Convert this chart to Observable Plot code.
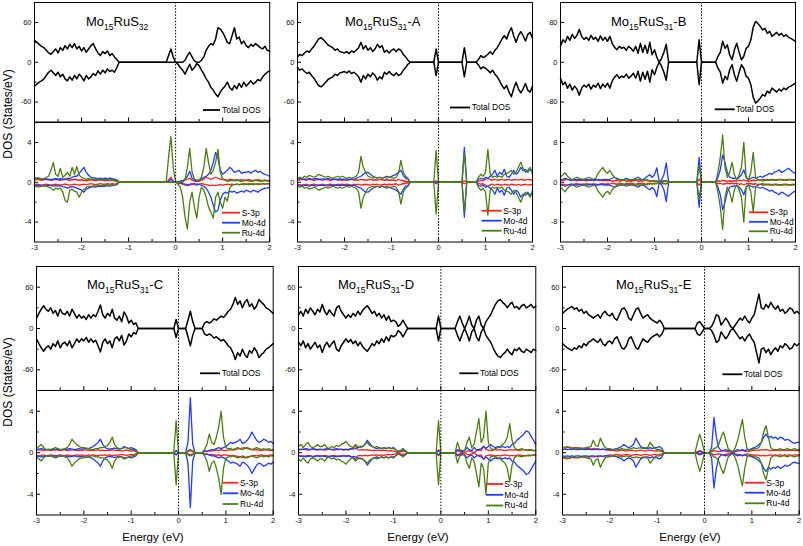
<!DOCTYPE html>
<html><head><meta charset="utf-8">
<script src="https://cdn.jsdelivr.net/npm/d3@7"></script>
<script src="https://cdn.jsdelivr.net/npm/@observablehq/plot@0.6"></script>
<style>
body{margin:0;background:#fff}
#root{position:relative;width:803px;height:546px;background:#fff;overflow:hidden;font-family:"Liberation Sans",Arial,sans-serif}
</style>
</head><body><div id="root"></div>
<script>
// Energy sampling grid (eV): -3.00 ... 2.00, 0.05 eV apart (101 samples)
const energy = d3.range(101).map(i => +(-3 + i * 0.05).toFixed(2));

// ---------- Panel 1: Mo15RuS32 (spin up / spin down read separately) ----------
const p1TotUp = [
33,30,27,24,22,18,14,12,16,20,
14,22,18,25,20,27,22,28,20,24,
17,22,15,20,25,28,20,14,10,16,
13,17,10,13,8,4,0,0,0,0,
0,0,0,0,0,0,0,0,0,0,
0,0,0,0,0,0,0,10,20,8,
0,0,0,0,3,10,15,8,2,0,
0,3,8,18,24,28,26,35,52,50,
45,38,30,28,40,52,35,38,28,32,
25,22,27,24,28,25,22,20,24,18,
17];
const p1TotDn = [
-36,-33,-30,-28,-25,-20,-15,-12,-16,-20,
-15,-22,-18,-25,-28,-22,-27,-20,-25,-18,
-22,-28,-20,-25,-22,-17,-20,-13,-18,-12,
-16,-10,-14,-12,-15,-8,0,0,0,0,
0,0,0,0,0,0,0,0,0,0,
0,0,0,0,0,0,0,0,0,0,
0,-3,-8,-12,-18,-10,-3,-12,-8,-2,
-5,-12,-18,-25,-30,-38,-42,-48,-52,-45,
-40,-36,-30,-38,-42,-35,-40,-32,-38,-30,
-36,-32,-28,-33,-30,-26,-28,-22,-18,-15,
-13];
const p1SUp = [
0.25,0.3,0.25,0.2,0.25,0.3,0.25,0.2,0.25,0.3,
0.25,0.2,0.25,0.3,0.25,0.2,0.25,0.3,0.25,0.2,
0.25,0.2,0.15,0.2,0.25,0.2,0.15,0.2,0.25,0.2,
0.15,0.2,0.15,0.2,0.15,0.1,0,0,0,0,
0,0,0,0,0,0,0,0,0,0,
0,0,0,0,0,0,0,0.2,0.5,0.1,
0,0,0.1,0.15,0.2,0.3,0.4,0.2,0.1,0.1,
0.1,0.2,0.3,0.5,0.4,0.3,0.4,0.5,0.4,0.3,
0.3,0.25,0.2,0.3,0.25,0.2,0.25,0.2,0.25,0.2,
0.2,0.25,0.2,0.15,0.2,0.25,0.2,0.15,0.2,0.15,
0.2];
const p1SDn = [
-0.25,-0.2,-0.25,-0.3,-0.25,-0.2,-0.25,-0.3,-0.25,-0.2,
-0.25,-0.3,-0.25,-0.2,-0.25,-0.3,-0.25,-0.2,-0.25,-0.3,
-0.25,-0.2,-0.25,-0.2,-0.15,-0.2,-0.25,-0.2,-0.15,-0.2,
-0.2,-0.15,-0.2,-0.15,-0.2,-0.1,0,0,0,0,
0,0,0,0,0,0,0,0,0,0,
0,0,0,0,0,0,0,0,0,0,
0,-0.1,-0.15,-0.2,-0.3,-0.35,-0.2,-0.15,-0.25,-0.3,
-0.2,-0.15,-0.2,-0.25,-0.3,-0.35,-0.3,-0.35,-0.3,-0.25,
-0.3,-0.25,-0.2,-0.25,-0.2,-0.25,-0.2,-0.25,-0.2,-0.15,
-0.2,-0.15,-0.2,-0.25,-0.2,-0.15,-0.2,-0.15,-0.2,-0.15,
-0.15];
const p1MoUp = [
0.4,0.35,0.4,0.3,0.35,0.3,0.3,0.25,0.3,0.35,
0.3,0.35,0.3,0.3,0.4,0.35,0.5,0.6,0.6,0.9,
1.2,1.5,1.0,0.7,0.5,0.45,0.4,0.35,0.4,0.35,
0.4,0.35,0.4,0.35,0.3,0.25,0,0,0,0,
0,0,0,0,0,0,0,0,0,0,
0,0,0,0,0,0,0,0.1,0.3,0.1,
0,0,0.1,0.15,0.3,0.6,1.1,0.4,0.2,0.15,
0.2,0.3,0.5,0.6,0.8,1.2,2.0,3.0,2.4,1.2,
0.8,1.0,1.2,1.5,1.3,1.0,1.1,1.2,0.9,1.0,
1.0,1.1,0.9,1.1,1.2,1.0,1.1,0.9,0.8,0.7,
0.6];
const p1MoDn = [
-0.3,-0.35,-0.3,-0.35,-0.4,-0.35,-0.3,-0.35,-0.4,-0.35,
-0.4,-0.35,-0.45,-0.5,-0.6,-0.5,-0.45,-0.5,-0.6,-0.7,
-0.8,-1.0,-0.7,-0.6,-0.5,-0.45,-0.5,-0.4,-0.45,-0.4,
-0.4,-0.35,-0.4,-0.35,-0.3,-0.25,0,0,0,0,
0,0,0,0,0,0,0,0,0,0,
0,0,0,0,0,0,0,0,0,0,
0,0,-0.1,-0.15,-0.2,-0.25,-0.3,-0.2,-0.15,-0.2,
-0.2,-0.3,-0.4,-0.6,-1.0,-1.5,-2.3,-3.0,-2.8,-1.8,
-1.2,-1.0,-1.1,-0.9,-1.0,-0.9,-1.1,-1.0,-0.9,-1.0,
-0.8,-0.9,-1.0,-0.8,-0.9,-1.0,-0.8,-0.7,-0.6,-0.6,
-0.5];
const p1RuUp = [
0.4,0.45,0.4,0.35,0.3,0.5,0.6,1.2,2.0,0.8,
0.6,1.4,0.5,0.7,1.0,0.6,1.5,0.8,1.6,0.7,
0.5,0.4,0.3,0.35,0.3,0.3,0.25,0.3,0.25,0.3,
0.25,0.3,0.2,0.25,0.2,0.2,0,0,0,0,
0,0,0,0,0,0,0,0,0,0,
0,0,0,0,0,0,0,2.5,4.6,1.5,
0,0,0,0,0.3,1.5,3.4,1.0,0.3,0.2,
0.2,0.5,1.5,3.4,2.0,0.8,1.2,2.0,3.3,1.0,
0.3,0.2,0.1,0.15,0.2,0.15,0.2,0.15,0.1,0.15,
0.2,0.15,0.1,0.15,0.2,0.15,0.1,0.15,0.2,0.15,
0.1];
const p1RuDn = [
-0.4,-0.45,-0.5,-0.4,-0.35,-0.4,-0.5,-0.6,-0.8,-0.6,
-0.7,-0.6,-1.0,-1.8,-2.0,-0.8,-0.7,-0.9,-1.0,-1.5,
-1.0,-0.7,-0.5,-0.4,-0.45,-0.35,-0.4,-0.3,-0.35,-0.3,
-0.3,-0.25,-0.3,-0.25,-0.3,-0.2,0,0,0,0,
0,0,0,0,0,0,0,0,0,0,
0,0,0,0,0,0,0,0,0,0,
0,-0.2,-0.5,-1.5,-3.5,-4.7,-2.0,-1.0,-2.5,-3.6,
-1.5,-0.5,-0.8,-1.5,-2.5,-3.0,-3.6,-1.5,-1.0,-2.0,
-2.6,-1.5,-1.9,-0.6,-0.3,-0.25,-0.2,-0.25,-0.2,-0.25,
-0.2,-0.25,-0.2,-0.15,-0.2,-0.25,-0.2,-0.15,-0.2,-0.15,
-0.2];

// ---------- Panels 2-6: spin-down curves are the mirror image of these spin-up values ----------
const p2Tot = [
8,12,10,14,17,15,20,24,30,35,
37,34,30,26,24,22,18,20,16,15,
14,16,13,17,15,18,22,30,20,25,
18,22,16,20,27,22,25,15,18,14,
18,20,16,20,18,12,8,3,0,0,
0,0,0,0,0,0,0,0,0,20,
0,0,0,0,0,0,0,0,0,0,
0,22,0,0,0,0,0,4,10,7,
9,12,16,12,18,22,28,35,40,35,
45,52,40,30,40,46,40,32,42,45,
36];
const p2S = [
0.2,0.25,0.3,0.25,0.2,0.3,0.25,0.2,0.25,0.3,
0.25,0.2,0.3,0.25,0.2,0.25,0.3,0.2,0.25,0.2,
0.25,0.2,0.25,0.3,0.2,0.25,0.2,0.3,0.25,0.2,
0.25,0.3,0.2,0.25,0.2,0.3,0.25,0.2,0.25,0.2,
0.25,0.2,0.15,0.3,0.2,0.15,0.1,0.05,0,0,
0,0,0,0,0,0,0,0,0,0.15,
0,0,0,0,0,0,0,0,0,0,
0,0.15,0,0,0,0,0,0.1,0.2,0.15,
0.3,0.4,0.25,0.2,0.3,0.2,0.25,0.3,0.2,0.25,
0.3,0.2,0.25,0.3,0.2,0.3,0.25,0.2,0.3,0.25,
0.2];
const p2Mo = [
0.3,0.4,0.3,0.35,0.3,0.4,0.3,0.35,0.4,0.3,
0.3,0.35,0.3,0.4,0.3,0.35,0.3,0.3,0.35,0.3,
0.3,0.35,0.3,0.35,0.3,0.4,0.5,0.6,0.8,1.0,
1.0,0.8,0.6,0.5,0.4,0.5,0.4,0.5,0.6,0.5,
0.6,0.7,0.8,1.0,1.2,0.7,0.4,0.3,0,0,
0,0,0,0,0,0,0,0,0,0,
0,0,0,0,0,0,0,0,0,0,
0,3.5,0,0,0,0,0,0.3,0.4,0.3,
0.5,0.4,0.6,0.8,1.2,0.6,1.0,0.8,1.3,0.6,
0.5,0.8,1.2,0.8,1.0,1.5,1.2,1.3,1.0,1.3,
1.2];
const p2Ru = [
0.4,0.5,0.4,0.6,0.5,0.7,0.6,0.5,0.6,0.8,
0.7,0.6,0.5,0.6,0.5,0.4,0.5,0.6,0.5,0.6,
0.5,0.4,0.5,0.4,0.5,0.6,1.0,2.6,1.5,1.0,
0.6,0.5,0.4,0.5,0.4,0.5,0.4,0.5,0.4,0.5,
0.5,0.4,0.5,0.9,2.2,1.0,0.6,0.4,0,0,
0,0,0,0,0,0,0,0,0,3.2,
0,0,0,0,0,0,0,0,0,0,
0,3.0,0,0,0,0,0,0.5,0.8,0.6,
1.0,3.3,0.8,0.5,0.6,0.5,0.6,0.5,0.8,0.9,
1.0,1.2,0.8,1.0,1.5,2.0,1.4,1.0,1.2,1.5,
0.8];

const p3Tot = [
32,45,40,52,44,56,48,54,66,52,
46,50,44,54,46,50,42,53,44,50,
42,52,38,30,25,32,28,30,24,32,
28,22,32,18,38,20,34,18,40,15,
25,10,0,8,20,36,0,0,0,0,
0,0,0,0,0,0,0,0,0,45,
0,0,0,0,0,0,0,12,20,42,
28,35,15,5,25,38,20,5,12,28,
32,45,70,82,78,72,65,68,58,62,
52,56,60,54,58,52,55,50,48,45,
42];
const p3S = [
0.5,0.4,0.5,0.6,0.4,0.5,0.4,0.3,0.4,0.5,
0.4,0.3,0.4,0.5,0.3,0.4,0.5,0.4,0.3,0.4,
0.3,0.4,0.2,0.3,0.4,0.2,0.3,0.4,0.2,0.3,
0.2,0.3,0.4,0.2,0.3,0.2,0.4,0.3,0.2,0.3,
0.2,0.3,0,0.2,0.3,0.3,0,0,0,0,
0,0,0,0,0,0,0,0,0,0.6,
0,0,0,0,0,0,0,0.3,0.2,0.4,
0.3,0.2,0.3,0.2,0.3,0.2,0.4,0.3,0.5,0.3,
0.2,0.3,0.4,0.3,0.5,0.4,0.6,0.5,0.4,0.5,
0.6,0.5,0.4,0.5,0.6,0.5,0.4,0.5,0.6,0.5,
0.5];
const p3Mo = [
0.5,0.6,0.8,0.6,0.5,0.4,0.5,0.6,0.5,0.4,
0.5,0.6,0.5,0.4,0.5,0.6,0.5,0.4,0.5,0.6,
0.5,0.6,0.8,1.0,0.8,0.6,0.5,0.6,0.8,0.6,
0.5,0.6,0.8,1.0,0.7,0.5,0.8,1.2,1.5,1.0,
1.5,2.9,0,0.5,1.5,3.9,0,0,0,0,
0,0,0,0,0,0,0,0,0,5.0,
0,0,0,0,0,0,0,1,2.5,5.5,
4,2,1,0.8,0.8,0.6,1.0,1.5,2.5,1.0,
0.5,0.8,1.0,0.8,1.0,1.2,1.0,1.3,1.5,1.8,
1.6,2.0,2.2,2.5,2.0,2.2,2.5,2.8,2.4,2.0,
1.8];
const p3Ru = [
1.0,1.5,1.9,1.2,0.8,0.5,0.8,1.0,0.8,0.6,
0.6,0.8,1.0,0.8,0.6,0.8,1.8,2.4,3.0,2.2,
1.8,2.4,1.5,1.0,0.6,0.5,0.4,0.5,0.4,0.5,
0.4,0.5,0.6,0.5,0.6,0.5,0.4,0.5,0.3,0.3,
0.3,0.2,0,0.1,0.2,0.3,0,0,0,0,
0,0,0,0,0,0,0,0,0,3.3,
0,0,0,0,0,0,0,2,5,9.5,
3,1,2,4,1.5,0.5,1.5,3,8,1,
0.5,2,6,1,0.5,0.4,0.3,0.4,0.5,0.4,
0.5,0.4,0.5,0.6,0.5,0.4,0.5,0.6,0.5,0.4,
0.5];

const p4Tot = [
15,22,28,33,28,25,30,22,26,18,
28,22,20,25,18,28,22,15,20,15,
18,13,20,15,20,17,25,34,20,15,
22,18,28,15,12,18,10,24,18,8,
12,6,8,0,0,0,0,0,0,0,
0,0,0,0,0,0,0,0,0,13,
0,0,0,0,12,25,10,0,0,0,
0,8,10,8,10,14,12,15,18,16,
20,25,28,35,45,35,40,30,38,42,
32,36,28,33,42,38,35,30,28,25,
22];
const p4S = [
0.25,0.3,0.25,0.2,0.3,0.25,0.2,0.25,0.3,0.25,
0.2,0.25,0.3,0.2,0.25,0.3,0.25,0.2,0.25,0.2,
0.25,0.3,0.2,0.25,0.2,0.25,0.3,0.2,0.25,0.2,
0.25,0.2,0.3,0.2,0.25,0.2,0.15,0.2,0.25,0.2,
0.15,0.2,0.1,0,0,0,0,0,0,0,
0,0,0,0,0,0,0,0,0,0.2,
0,0,0,0,0.1,0.2,0.1,0,0,0,
0,0.1,0.15,0.2,0.15,0.2,0.25,0.2,0.3,0.2,
0.2,0.25,0.3,0.25,0.3,0.35,0.4,0.45,0.5,0.4,
0.35,0.3,0.25,0.3,0.25,0.2,0.25,0.3,0.25,0.2,
0.25];
const p4Mo = [
0.3,0.35,0.4,0.35,0.3,0.35,0.3,0.35,0.3,0.35,
0.3,0.35,0.3,0.35,0.4,0.35,0.3,0.35,0.4,0.35,
0.4,0.45,0.4,0.5,0.6,0.8,1.0,1.3,0.8,0.5,
0.4,0.35,0.4,0.45,0.4,0.35,0.4,0.6,0.5,0.4,
0.5,0.4,0.3,0,0,0,0,0,0,0,
0,0,0,0,0,0,0,0,0,0.2,
0,0,0,0,1.0,5.3,0.8,0,0,0,
0,0.2,0.1,0.2,0.3,0.3,0.4,0.5,0.4,0.5,
0.6,0.8,1.0,0.9,1.0,1.1,1.3,0.9,1.0,1.2,
1.5,2.0,1.6,1.2,1.0,1.1,1.3,1.2,1.0,1.1,
0.9];
const p4Ru = [
0.4,0.6,0.8,0.5,0.3,0.3,0.3,0.4,0.5,0.4,
0.3,0.3,0.4,0.5,0.8,1.3,1.0,0.8,0.6,0.5,
0.5,0.4,0.4,0.3,0.3,0.4,0.4,0.5,0.5,0.6,
0.7,1.0,1.5,0.8,0.5,0.4,0.4,0.5,0.5,0.4,
0.3,0.3,0.2,0,0,0,0,0,0,0,
0,0,0,0,0,0,0,0,0,3.1,
0,0,0,0,0.2,0.3,0.2,0,0,0,
0,0.3,0.8,1.8,1.0,0.8,1.5,2.5,4.0,1.5,
0.5,0.4,0.4,0.3,0.4,0.5,0.4,0.3,0.4,0.5,
0.4,0.3,0.4,0.5,0.4,0.3,0.4,0.3,0.4,0.3,
0.3];

const p5Tot = [
20,25,18,28,22,30,25,20,28,24,
35,25,20,27,22,18,30,33,25,20,
15,20,16,22,18,25,20,26,30,33,
28,22,25,18,22,15,20,12,18,10,
12,10,3,6,12,6,0,0,0,0,
0,0,0,0,0,0,0,0,0,18,
0,0,0,0,0,0,0,10,18,8,
0,8,18,5,0,12,18,5,0,10,
15,20,28,35,40,42,38,35,30,35,
38,30,32,28,33,35,30,32,35,30,
32];
const p5S = [
0.25,0.3,0.35,0.3,0.25,0.3,0.35,0.3,0.25,0.3,
0.3,0.25,0.3,0.35,0.3,0.25,0.3,0.35,0.3,0.25,
0.3,0.25,0.35,0.45,0.65,0.3,0.25,0.3,0.25,0.3,
0.25,0.2,0.25,0.2,0.25,0.2,0.25,0.2,0.15,0.2,
0.15,0.1,0,0.1,0.15,0.1,0,0,0,0,
0,0,0,0,0,0,0,0,0,0.3,
0,0,0,0,0,0,0,0.2,0.1,0,
0,0.15,0.2,0.1,0,0.2,0.25,0.2,0.65,0.3,
0.25,0.2,0.25,0.3,0.25,0.3,0.25,0.2,0.25,0.3,
0.25,0.3,0.25,0.2,0.25,0.3,0.25,0.3,0.25,0.2,
0.25];
const p5Mo = [
0.3,0.35,0.3,0.4,0.35,0.3,0.4,0.35,0.3,0.35,
0.3,0.35,0.4,0.35,0.3,0.35,0.4,0.3,0.35,0.3,
0.35,0.3,0.4,0.35,0.4,0.5,0.6,0.6,0.8,1.2,
0.9,0.6,0.5,0.4,0.5,0.4,0.5,0.4,0.5,0.4,
0.5,0.3,0.1,0.2,0.3,0.2,0,0,0,0,
0,0,0,0,0,0,0,0,0,0.2,
0,0,0,0,0,0,0,0.3,0.2,0.1,
0.2,0.5,0.3,0.2,0.5,0.3,0.3,0.4,0.6,0.4,
0.6,0.8,0.6,0.5,0.6,0.5,0.6,0.5,0.6,0.5,
0.8,0.9,1.2,1.4,1.6,1.8,2.1,2.0,1.6,1.2,
0.8];
const p5Ru = [
0.6,0.8,0.5,0.8,1.0,0.6,0.5,0.6,0.8,0.6,
0.6,0.8,0.5,0.4,0.6,0.5,0.7,0.6,0.8,0.9,
1.1,0.8,0.6,0.5,0.8,0.6,0.5,0.6,0.8,1.0,
0.7,0.6,0.5,0.6,0.5,0.4,0.5,0.4,0.5,0.4,
0.4,0.3,0.1,0.2,0.4,0.2,0,0,0,0,
0,0,0,0,0,0,0,0,0,3.1,
0,0,0,0,0,0,0,1.0,0.3,0.2,
0.2,1.0,1.5,0.5,0.8,2.0,3.3,1.0,1.5,4.0,
1.0,0.4,0.3,0.4,0.5,0.6,0.8,1.0,1.5,2.8,
1.2,0.5,0.3,0.3,0.4,0.3,0.3,0.2,0.3,0.2,
0.2];

const p6Tot = [
22,25,28,30,32,28,30,25,28,22,
25,20,18,15,18,20,15,22,25,20,
18,22,15,12,20,28,30,25,15,12,
20,28,30,22,15,18,20,15,12,10,
8,12,8,0,0,0,0,0,0,0,
0,0,0,0,0,0,0,8,10,5,
0,0,0,3,10,20,18,5,10,15,
10,3,0,5,10,15,12,18,12,8,
15,20,35,50,30,28,35,30,38,32,
28,33,25,28,22,25,30,28,22,25,
22];
const p6S = [
0.5,0.45,0.5,0.55,0.45,0.5,0.45,0.5,0.4,0.45,
0.4,0.45,0.35,0.4,0.35,0.4,0.3,0.35,0.3,0.25,
0.2,0.25,0.2,0.15,0.2,0.25,0.2,0.15,0.2,0.25,
0.2,0.15,0.2,0.25,0.2,0.15,0.2,0.25,0.2,0.15,
0.2,0.15,0.1,0,0,0,0,0,0,0,
0,0,0,0,0,0,0,0.1,0.2,0.1,
0,0,0,0.1,0.2,0.15,0.1,0.15,0.2,0.15,
0.1,0.05,0,0.1,0.15,0.2,0.25,0.15,0.1,0.15,
0.2,0.25,0.2,0.25,0.3,0.25,0.3,0.25,0.2,0.25,
0.2,0.25,0.2,0.25,0.2,0.25,0.2,0.25,0.2,0.2,
0.2];
const p6Mo = [
0.3,0.35,0.3,0.35,0.3,0.35,0.3,0.3,0.35,0.3,
0.3,0.35,0.3,0.3,0.35,0.3,0.3,0.35,0.3,0.3,
0.35,0.3,0.35,0.4,0.5,0.6,0.8,0.6,0.5,0.6,
0.8,1.4,1.0,0.6,0.5,0.4,0.4,0.5,0.4,0.5,
0.5,0.6,0.4,0,0,0,0,0,0,0,
0,0,0,0,0,0,0,0,0.15,0,
0,0,0,0.5,3.4,1.5,0.5,0.2,0.2,0.3,
0.2,0.2,0,0.2,0.3,0.2,0.3,0.2,0.3,0.3,
0.4,0.5,0.6,0.8,1.0,1.5,1.8,1.4,1.6,1.4,
1.5,1.3,1.5,1.4,1.2,1.3,1.2,1.0,0.9,1.0,
1.0];
const p6Ru = [
0.5,0.55,0.6,0.5,0.4,0.45,0.5,0.4,0.45,0.4,
0.5,0.55,0.6,1.2,0.7,0.6,1.4,0.9,0.5,0.4,
0.4,0.3,0.3,0.35,0.3,0.4,0.35,0.3,0.35,0.4,
0.5,0.4,0.45,0.5,0.4,0.5,0.5,1.0,0.7,0.4,
0.3,0.3,0.2,0,0,0,0,0,0,0,
0,0,0,0,0,0,0,1.0,1.8,1.0,
0,0,0,0.2,0.4,0.5,0.8,1.5,2.0,1.2,
0.4,0.2,0.1,0.5,1.2,2.2,3.2,1.5,0.4,0.2,
0.3,0.4,0.4,0.5,1.0,2.0,2.6,1.5,0.5,0.3,
0.3,0.3,0.4,0.3,0.3,0.4,0.3,0.3,0.4,0.3,
0.3];

// ---------- Text / ticks ----------
const titleSubs = [["15","32",""],["15","31","-A"],["15","31","-B"],["15","31","-C"],["15","31","-D"],["15","31","-E"]];
const seriesNames = ["S-3p","Mo-4d","Ru-4d"];
const totalName = "Total DOS";
const xMajor = [-3,-2,-1,0,1,2];
const xMinor = [-2.5,-1.5,-0.5,0.5,1.5];

// ---------- Layout (pixel geometry of each panel frame) ----------
const colors = {S:"#ff1f1f", Mo:"#1f3cff", Ru:"#4b7e12", tot:"#000"};
const FONT = '"Liberation Sans", Arial, sans-serif';
const layout = [
 {l:34.3, r:269.5, t:2, m:121.5, b:241, titleX:86,  totL:[203,220,222,110],   pdL:[222,240,241.7,[212.7,222.7,232.7]]},
 {l:296.7,r:531.7, t:2, m:121.5, b:241, titleX:345, totL:[450,470,471.7,107.5], pdL:[481.7,501.7,503.3,[210.7,220.7,230.7]]},
 {l:559.7,r:794.7, t:2, m:121.5, b:241, titleX:611, totL:[714.7,734.7,735.7,109.3], pdL:[749,768,769.7,[212.3,221.8,231.3]]},
 {l:35.7, r:272.4, t:265.5, m:389.5, b:514, titleX:87,  totL:[200,220,221.7,373.3], pdL:[222.7,238.3,240,[482.7,493.3,504]]},
 {l:298.3,r:535.6, t:265.5, m:389.5, b:514, titleX:338, totL:[459.3,478.3,480,373.3], pdL:[486,503.3,504.3,[484,494.8,505.5]]},
 {l:562,  r:798.7, t:265.5, m:389.5, b:514, titleX:616, totL:[722.3,742.3,743.7,374.3], pdL:[744.7,764.7,766.3,[482.7,492.7,503.3]]}
];
const scales = [
 {top:[-90,90], topT:[-60,0,60], topM:[-30,30], bot:[-6,6], botT:[-4,0,4], botM:[-2,2]},
 {top:[-90,90], topT:[-60,0,60], topM:[-30,30], bot:[-6,6], botT:[-4,0,4], botM:[-2,2]},
 {top:[-120,120], topT:[-80,0,80], topM:[-40,40], bot:[-12,12], botT:[-8,0,8], botM:[-4,4]},
 {top:[-90,90], topT:[-60,0,60], topM:[-30,30], bot:[-6,6], botT:[-4,0,4], botM:[-2,2]},
 {top:[-90,90], topT:[-60,0,60], topM:[-30,30], bot:[-6,6], botT:[-4,0,4], botM:[-2,2]},
 {top:[-90,90], topT:[-60,0,60], topM:[-30,30], bot:[-6,6], botT:[-4,0,4], botM:[-2,2]}
];
// [up, down] ; down === null means mirrored spin-down channel
const data = [
 {tot:[p1TotUp,p1TotDn], S:[p1SUp,p1SDn], Mo:[p1MoUp,p1MoDn], Ru:[p1RuUp,p1RuDn]},
 {tot:[p2Tot,null], S:[p2S,null], Mo:[p2Mo,null], Ru:[p2Ru,null]},
 {tot:[p3Tot,null], S:[p3S,null], Mo:[p3Mo,null], Ru:[p3Ru,null]},
 {tot:[p4Tot,null], S:[p4S,null], Mo:[p4Mo,null], Ru:[p4Ru,null]},
 {tot:[p5Tot,null], S:[p5S,null], Mo:[p5Mo,null], Ru:[p5Ru,null]},
 {tot:[p6Tot,null], S:[p6S,null], Mo:[p6Mo,null], Ru:[p6Ru,null]}
];

function curveMarks(pair, color, width) {
  const [up, dn] = pair;
  const xs = (d, i) => energy[i];
  const marks = [Plot.line(up, {x: xs, y: d => d, stroke: color, strokeWidth: width})];
  if (dn) marks.push(Plot.line(dn, {x: xs, y: d => d, stroke: color, strokeWidth: width}));
  else marks.push(Plot.line(up, {x: xs, y: d => -d, stroke: color, strokeWidth: width}));
  return marks;
}

function section(k, isTop) {
  const L = layout[k], S = scales[k], D = data[k];
  const y0 = isTop ? L.t : L.m, y1 = isTop ? L.m : L.b;
  const w = L.r - L.l, h = y1 - y0;
  const mL = 30, mR = 3, mT = 3, mB = isTop ? 3 : 16;
  const lines = isTop
    ? curveMarks(D.tot, colors.tot, 1.5)
    : [...curveMarks(D.S, colors.S, 1.3), ...curveMarks(D.Mo, colors.Mo, 1.3), ...curveMarks(D.Ru, colors.Ru, 1.3)];
  const plot = Plot.plot({
    width: w + mL + mR, height: h + mT + mB,
    marginLeft: mL, marginRight: mR, marginTop: mT, marginBottom: mB,
    style: {fontFamily: FONT, fontSize: "7.5px", background: "none", overflow: "visible", color: "#111"},
    x: {domain: [-3, 2], ticks: xMajor, tickSize: 0, tickPadding: 3, tickFormat: d => String(d), label: null, axis: isTop ? null : "bottom"},
    y: {domain: isTop ? S.top : S.bot, ticks: isTop ? S.topT : S.botT, tickSize: 0, tickPadding: 3, tickFormat: d => String(d), label: null},
    marks: [
      ...lines,
      Plot.ruleX([0], {stroke: "#000", strokeWidth: 1, strokeDasharray: "1.5,1.6"}),
      Plot.tickX(xMajor, {x: d => d, insetTop: h - 4, stroke: "#000", strokeWidth: 1}),
      Plot.tickX(xMinor, {x: d => d, insetTop: h - 2.5, stroke: "#000", strokeWidth: 1}),
      Plot.tickY(isTop ? S.topT : S.botT, {y: d => d, insetRight: w - 4, stroke: "#000", strokeWidth: 1}),
      Plot.tickY(isTop ? S.topM : S.botM, {y: d => d, insetRight: w - 2.5, stroke: "#000", strokeWidth: 1}),
      Plot.frame({stroke: "#000", strokeWidth: 1})
    ]
  });
  plot.style.position = "absolute";
  plot.style.left = (L.l - mL) + "px";
  plot.style.top = (y0 - mT) + "px";
  return plot;
}

const root = document.getElementById("root");
layout.forEach((L, k) => { root.append(section(k, true)); root.append(section(k, false)); });

// ---------- Overlay texts: titles, legends, axis titles ----------
const ov = d3.select(root).append("svg")
  .attr("width", 803).attr("height", 546)
  .style("position", "absolute").style("left", "0px").style("top", "0px")
  .style("pointer-events", "none").style("font-family", FONT);

layout.forEach((L, k) => {
  const [s1, s2, suf] = titleSubs[k];
  const t = ov.append("text").attr("x", L.titleX).attr("y", L.t + 23.7).attr("font-size", 13).attr("fill", "#000");
  t.append("tspan").text("Mo");
  t.append("tspan").attr("font-size", 8.5).attr("dy", 4).text(s1);
  t.append("tspan").attr("dy", -4).text("RuS");
  t.append("tspan").attr("font-size", 8.5).attr("dy", 4).text(s2);
  if (suf) t.append("tspan").attr("dy", -4).text(suf);

  const [a, b, tx, ty] = L.totL;
  ov.append("line").attr("x1", a).attr("x2", b).attr("y1", ty).attr("y2", ty).attr("stroke", "#000").attr("stroke-width", 1.8);
  ov.append("text").attr("x", tx).attr("y", ty).attr("dy", "0.35em").attr("font-size", 8.5).text(totalName);

  const [c, d, px, ys] = L.pdL;
  [colors.S, colors.Mo, colors.Ru].forEach((col, j) => {
    ov.append("line").attr("x1", c).attr("x2", d).attr("y1", ys[j]).attr("y2", ys[j]).attr("stroke", col).attr("stroke-width", 1.8);
    ov.append("text").attr("x", px).attr("y", ys[j]).attr("dy", "0.35em").attr("font-size", 8.5).text(seriesNames[j]);
  });
});

[[7.5, 114], [7.5, 382]].forEach(([x, y]) => {
  ov.append("text").attr("transform", `translate(${x},${y}) rotate(-90)`)
    .attr("text-anchor", "middle").attr("dy", "0.35em").attr("font-size", 12).text("DOS (States/eV)");
});
[153, 418, 690].forEach(x => {
  ov.append("text").attr("x", x).attr("y", 541).attr("text-anchor", "middle").attr("font-size", 11.5).text("Energy (eV)");
});
</script>
</body></html>
